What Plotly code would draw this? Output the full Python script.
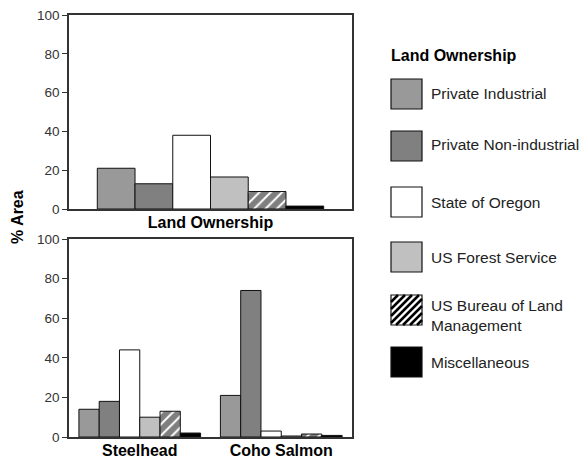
import plotly.graph_objects as go

series = ["Private Industrial", "Private Non-industrial", "State of Oregon",
          "US Forest Service", "US Bureau of Land<br>Management", "Miscellaneous"]
top_categories = ["Land Ownership"]
bottom_categories = ["Steelhead", "Coho Salmon"]
top_values = [21, 13, 38, 16.5, 9, 1.5]
steelhead_values = [14, 18, 44, 10, 13, 2]
coho_values = [21, 74, 3, 0.5, 1.5, 0.8]
y_ticks = [0, 20, 40, 60, 80, 100]

colors = ["#999999", "#808080", "#ffffff", "#c0c0c0", "#ffffff", "#000000"]
hatched = [False, False, False, False, True, False]

FONT = "Liberation Sans, Arial, sans-serif"
W, H = 587, 459
ml, mr, mt, mb = 69, 235, 15, 22
ph = H - mt - mb
n = len(series)
top_group, bot_group = 0.80, 0.86

def py(pix):
    return (H - mb - pix) / ph

fig = go.Figure()
for i, name in enumerate(series):
    marker = dict(color=colors[i], line=dict(color="#111111", width=1))
    if hatched[i]:
        marker["pattern"] = dict(shape="/", fgcolor="#000000", bgcolor="#ffffff",
                                 size=8, solidity=0.75)
    tw, bw = top_group / n, bot_group / n
    fig.add_trace(go.Bar(x=top_categories, y=[top_values[i]], name=name,
                         width=tw, offset=-top_group / 2 + i * tw,
                         marker=marker, xaxis="x", yaxis="y", showlegend=False))
    fig.add_trace(go.Bar(x=bottom_categories, y=[steelhead_values[i], coho_values[i]],
                         width=bw, offset=-bot_group / 2 + i * bw,
                         name=name, marker=marker, xaxis="x2", yaxis="y2",
                         showlegend=False))

axis_common = dict(showline=True, linecolor="#333333", linewidth=1.5, mirror=True,
                   showgrid=False, zeroline=False, automargin=False)
yax = dict(axis_common, range=[0, 100], tickvals=y_ticks, ticks="outside",
           ticklen=5, tickcolor="#333333",
           tickfont=dict(family=FONT, size=13.5, color="#333333"))
xax = dict(axis_common, ticks="", ticklabelstandoff=-2,
           tickfont=dict(family=FONT, size=16, color="#000000", weight="bold"))

fig.update_layout(
    width=W, height=H,
    margin=dict(l=ml, r=mr, t=mt, b=mb, autoexpand=False),
    paper_bgcolor="white", plot_bgcolor="white",
    barmode="overlay",
    xaxis=dict(xax, domain=[0, 1], anchor="y"),
    yaxis=dict(yax, domain=[py(209), 1.0], anchor="x"),
    xaxis2=dict(xax, domain=[0, 1], anchor="y2"),
    yaxis2=dict(yax, domain=[0, py(239)], anchor="x2"),
    font=dict(family=FONT),
)

pw = W - ml - mr
def px(pix):
    return (pix - ml) / pw

# y-axis title
fig.add_annotation(text="<b>% Area</b>", xref="paper", yref="paper",
                   x=px(18), y=py(217), textangle=-90,
                   showarrow=False, font=dict(family=FONT, size=16, color="#000000"),
                   xanchor="center", yanchor="middle")

# Manual legend
fig.add_annotation(text="<b>Land Ownership</b>", xref="paper", yref="paper",
                   x=px(389), y=py(56), showarrow=False, xanchor="left",
                   yanchor="middle", font=dict(family=FONT, size=16, color="#000000"))
sw_top = [79, 131, 187, 242, 295, 347]
text_y = [93, 145, 202, 257, 315, 362]
sx0, sx1, ss = 391, 422, 30
for i, name in enumerate(series):
    y0 = sw_top[i]
    fig.add_shape(type="rect", xref="paper", yref="paper",
                  x0=px(sx0), x1=px(sx1), y0=py(y0 + ss), y1=py(y0),
                  fillcolor=colors[i], line=dict(color="#111111", width=1.2))
    if hatched[i]:
        step = 7
        for k in range(-ss, 2 * ss, step):
            ax0, ay0 = sx0 + k, y0 + ss
            ax1, ay1 = sx0 + k + ss, y0
            if ax0 < sx0:
                ay0 -= (sx0 - ax0); ax0 = sx0
            if ax1 > sx1:
                ay1 += (ax1 - sx1); ax1 = sx1
            if ax0 >= ax1:
                continue
            fig.add_shape(type="line", xref="paper", yref="paper",
                          x0=px(ax0), y0=py(ay0), x1=px(ax1), y1=py(ay1),
                          line=dict(color="#000000", width=2.5))
    fig.add_annotation(text=name, xref="paper", yref="paper", x=px(429),
                       y=py(text_y[i]), showarrow=False, xanchor="left",
                       yanchor="middle", align="left",
                       font=dict(family=FONT, size=15.5, color="#222222"))

fig.write_html("out.html", config={"displayModeBar": False},
               post_script="document.body.style.margin='0';document.body.style.overflow='hidden';")
